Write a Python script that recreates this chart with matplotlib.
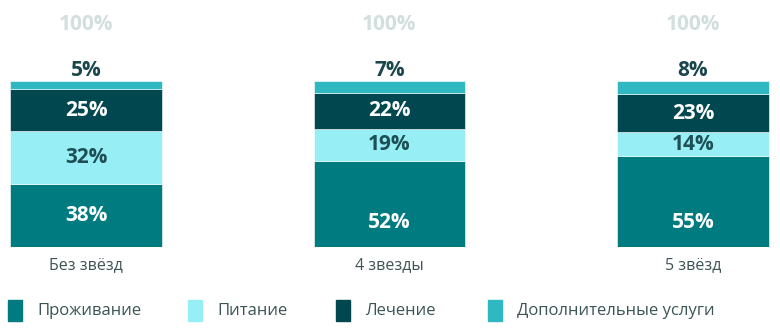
import matplotlib
matplotlib.use("Agg")
import matplotlib.pyplot as plt
from matplotlib.patches import Rectangle

plt.rcParams['font.family'] = ['Open Sans', 'DejaVu Sans']

categories = ['Без звёзд', '4 звезды', '5 звёзд']
series = ['Проживание', 'Питание', 'Лечение', 'Дополнительные услуги']
prozhivanie = [38, 52, 55]
pitanie = [32, 19, 14]
lechenie = [25, 22, 23]
dop_uslugi = [5, 7, 8]
totals = [100, 100, 100]

colors = ['#007b80', '#97eef5', '#00474f', '#2fb8c2']
text_colors = ['white', '#1d4f55', 'white', '#1d4f55']

fig = plt.figure(figsize=(7.8, 3.3), dpi=100)
ax = fig.add_axes([0, 1 - 247 / 330, 1, 166 / 330])
ax.set_xlim(-86 / 303.5, (780 - 86) / 303.5)
ax.set_ylim(0, 100)
ax.axis('off')

x = list(range(len(categories)))
bottoms = [0] * len(categories)
all_vals = [prozhivanie, pitanie, lechenie, dop_uslugi]
for k, vals in enumerate(all_vals):
    ax.bar(x, vals, width=0.5, bottom=bottoms, color=colors[k],
           edgecolor='white', linewidth=0.4)
    for i, v in enumerate(vals):
        if k < 3:
            # tall segments have their label nearer the bottom
            ypos = bottoms[i] + (v / 2 if v < 40 else 15)
            ax.text(x[i], ypos, f'{v}%', ha='center', va='center',
                    fontsize=15, fontweight='bold', color=text_colors[k])
        else:
            ax.text(x[i], 100 + 6.6, f'{v}%', ha='center', va='center',
                    fontsize=15, fontweight='bold', color='#1a464c', clip_on=False)
    bottoms = [b + v for b, v in zip(bottoms, vals)]

for i, t in enumerate(totals):
    ax.text(x[i], 134, f'{t}%', ha='center', va='center', fontsize=15,
            fontweight='bold', color='#d3dede', clip_on=False)
    ax.text(x[i], -11, categories[i], ha='center', va='center', fontsize=11.5,
            color='#3f5355', clip_on=False)

# legend
leg_x = [8, 188, 336, 488]
for k, name in enumerate(series):
    fig.patches.append(Rectangle((leg_x[k] / 780, 1 - 321 / 330), 14 / 780, 21 / 330,
                                 transform=fig.transFigure, color=colors[k]))
    fig.text((leg_x[k] + 29) / 780, 1 - 311 / 330, name, ha='left', va='center',
             fontsize=12, color='#3b5456')

fig.savefig('out.png', dpi=100)
